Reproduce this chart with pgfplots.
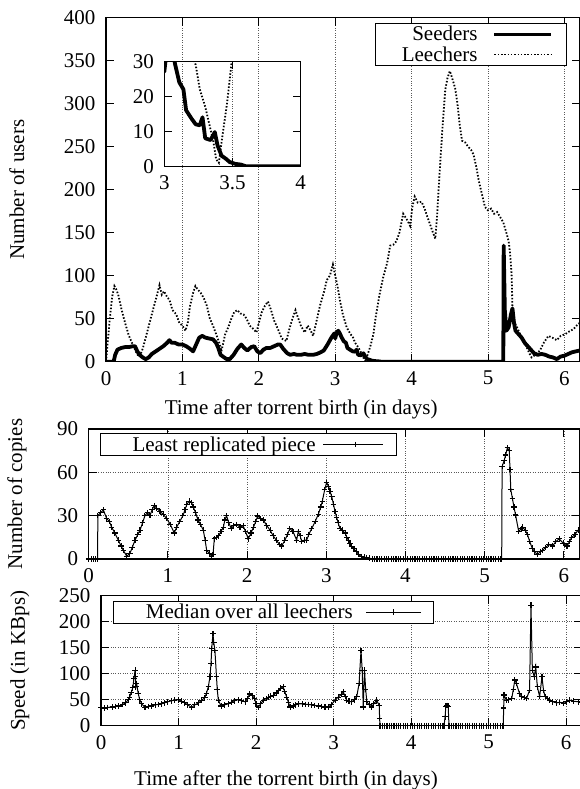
\documentclass[border=0pt]{standalone}
\usepackage{fontspec}
\setmainfont{Liberation Serif}
\usepackage{pgfplots}
\pgfplotsset{compat=1.18}
\usepackage{pgfplotstable}

% number of seeders (days, users)
\pgfplotstableread{
t v
0.00 0
0.10 0
0.12 8
0.15 14
0.20 16
0.25 17
0.30 17
0.35 18
0.38 18
0.41 12
0.44 8
0.48 5
0.52 3
0.56 5
0.60 9
0.65 12
0.70 15
0.75 18
0.80 22
0.83 25
0.86 22
0.90 22
0.95 20
1.00 20
1.05 18
1.10 15
1.14 12
1.18 20
1.22 28
1.26 30
1.30 28
1.35 27
1.40 26
1.44 22
1.47 16
1.50 8
1.53 6
1.58 3
1.62 3
1.67 8
1.72 15
1.77 20
1.81 16
1.85 13
1.90 17
1.94 18
1.98 12
2.02 10
2.06 14
2.10 16
2.15 16
2.20 18
2.25 20
2.28 20
2.32 15
2.37 10
2.41 8
2.46 9
2.50 8
2.55 8
2.60 9
2.65 8
2.71 8
2.76 9
2.81 11
2.85 13
2.90 20
2.95 28
2.99 33
3.00 27
3.02 34
3.04 36
3.06 33
3.08 29
3.11 24
3.14 22
3.16 16
3.20 13.6
3.23 12
3.26 11.7
3.28 14
3.30 8
3.34 7.5
3.37 9.8
3.39 6
3.42 3
3.45 2.2
3.48 1.2
3.52 0.7
3.56 0.5
3.60 0
5.20 0
5.205 135
5.22 60
5.24 36
5.27 40
5.30 55
5.32 62
5.34 45
5.36 36
5.40 32
5.44 28
5.48 22
5.52 18
5.56 14
5.60 10
5.65 8
5.70 9
5.75 8
5.80 6
5.85 5
5.90 3
5.95 6
6.00 7
6.05 9
6.10 11
6.15 12
6.20 13
}\seeders

% number of leechers (days, users)
\pgfplotstableread{
t v
0.00 0
0.02 20
0.05 50
0.08 75
0.11 88
0.13 85
0.16 78
0.20 62
0.25 45
0.30 30
0.35 20
0.40 10
0.43 6
0.45 8
0.48 15
0.52 28
0.57 45
0.62 62
0.66 75
0.70 89
0.73 78
0.76 82
0.80 75
0.83 72
0.87 60
0.92 55
0.96 45
1.00 42
1.04 36
1.07 45
1.10 65
1.14 80
1.17 88
1.20 84
1.24 80
1.28 74
1.32 65
1.36 50
1.40 42
1.45 30
1.49 20
1.51 12
1.53 20
1.56 32
1.60 40
1.64 50
1.68 58
1.72 60
1.76 56
1.80 55
1.84 50
1.88 42
1.93 38
1.97 34
2.00 45
2.04 58
2.08 65
2.12 70
2.16 60
2.20 48
2.25 38
2.30 27
2.36 24
2.40 38
2.44 50
2.48 60
2.51 52
2.55 42
2.60 34
2.64 42
2.68 36
2.71 30
2.75 45
2.80 65
2.85 80
2.89 95
2.93 100
2.97 113
3.00 100
3.03 88
3.06 72
3.10 55
3.15 40
3.20 32
3.23 29
3.26 22
3.30 17
3.33 12
3.36 7
3.38 2
3.40 1
3.42 7
3.46 18
3.50 32
3.53 52
3.58 78
3.63 99
3.68 115
3.72 135
3.76 136
3.80 140
3.84 150
3.89 172
3.94 165
3.98 158
4.01 180
4.04 192
4.08 185
4.13 186
4.17 178
4.20 170
4.24 160
4.28 150
4.31 143
4.33 165
4.37 225
4.41 280
4.44 316
4.47 330
4.50 338
4.53 330
4.57 318
4.60 300
4.63 275
4.66 257
4.70 255
4.74 250
4.78 246
4.81 241
4.85 225
4.88 210
4.92 195
4.96 180
5.00 176
5.04 178
5.08 172
5.12 174
5.16 168
5.20 162
5.24 150
5.27 140
5.29 125
5.31 99
5.32 60
5.35 45
5.38 40
5.42 32
5.46 24
5.50 18
5.54 10
5.57 5
5.62 8
5.68 13
5.73 22
5.79 30
5.84 28
5.90 25
5.95 30
6.01 32
6.06 35
6.12 38
6.18 44
6.20 45
}\leechers

\pgfplotsset{
  gnu/.style={
    scale only axis, anchor=south west,
    axis line style={line width=1.2pt},
    tick style={line width=0.8pt, black},
    major tick length=8pt,
    /pgf/number format/assume math mode=true,
    tick label style={font=\fontsize{21}{24}\selectfont},
    xticklabel style={yshift=-6pt},
    yticklabel style={xshift=-7pt},
    label style={font=\fontsize{21}{24}\selectfont},
    grid style={dotted, line width=0.7pt, black!65},
    legend style={font=\fontsize{21}{24}\selectfont, draw=black, line width=1.1pt,
      inner xsep=0pt, inner ysep=1pt, column sep=0pt,
      nodes={inner xsep=0pt, inner ysep=2pt}},
    legend plot pos=right, legend cell align=right,
  },
  pluses/.style={black, line width=1pt, mark=+, mark size=2.8pt,
    mark options={line width=1.1pt}},
}

\begin{document}
\begin{tikzpicture}
\useasboundingbox (0,0) rectangle (579pt,-789pt);

% users
\begin{axis}[gnu,
  at={(106pt,-361.7pt)}, width=473.7pt, height=344pt,
  xmin=0, xmax=6.2, ymin=0, ymax=400,
  xtick={0,...,6}, ytick={0,50,...,400},
  xmajorgrids,
  xlabel={Time after torrent birth (in days)},
  ylabel={Number of users},
  xlabel style={at={(axis description cs:0.412,-0.14)}, anchor=center},
  ylabel style={at={(axis description cs:-0.188,0.5)}, anchor=center},
  legend style={at={(0.973,0.985)}, anchor=north east},
  legend image code/.code={\path (0pt,0pt) (70pt,0pt); \draw[#1] (0pt,0pt) -- (57pt,0pt);},
]
\addplot[black, line width=3.8pt, line join=round] table {\seeders};
\addplot[black, line width=1.8pt, dash pattern=on 1.5pt off 1.8pt] table {\leechers};
\legend{\hspace*{26pt}Seeders\hspace*{15pt}, \hspace*{26pt}Leechers\hspace*{15pt}}
\end{axis}

% inset
\begin{axis}[gnu,
  at={(164.3pt,-166.3pt)}, width=136.4pt, height=105pt,
  xmin=3, xmax=4, ymin=0, ymax=30,
  xtick={3,3.5,4}, ytick={0,10,20,30},
  xmajorgrids,
]
\addplot[black, line width=3.8pt, line join=round] table {\seeders};
\addplot[black, line width=1.8pt, dash pattern=on 1.5pt off 1.8pt] table {\leechers};
\end{axis}

% copies of the least replicated piece
\begin{axis}[gnu, clip mode=individual,
  at={(88.7pt,-559pt)}, width=491pt, height=130pt,
  xmin=0, xmax=6.2, ymin=0, ymax=90,
  xtick={0,...,6}, ytick={0,30,60,90},
  grid=major,
  ylabel={Number of copies},
  ylabel style={at={(axis description cs:-0.146,0.5)}, anchor=center},
  legend style={at={(0.023,0.969)}, anchor=north west},
  legend image code/.code={\path (0pt,0pt) (73pt,0pt);
    \draw[#1, mark repeat=2, mark phase=2] plot coordinates {(0pt,0pt) (32pt,0pt) (60pt,0pt)};},
]
\addplot[pluses] coordinates {
(0,0) (0.03,0) (0.06,0) (0.09,0) (0.113,0) (0.115,30) (0.15,32) (0.185,34) (0.227,28)
(0.26,26) (0.29,22) (0.33,18) (0.374,13) (0.41,9) (0.437,6) (0.48,2) (0.52,3.8) (0.55,8)
(0.585,13) (0.62,17) (0.648,20) (0.68,25) (0.71,30) (0.74,32) (0.774,30) (0.80,34) (0.828,37)
(0.86,35) (0.90,33) (0.94,31) (0.984,28) (1.03,24) (1.08,18) (1.11,22) (1.15,26) (1.19,30)
(1.216,34) (1.24,38) (1.27,40) (1.30,39) (1.32,36) (1.35,32) (1.38,27) (1.41,24) (1.447,20)
(1.47,13) (1.49,6) (1.52,4) (1.553,2) (1.57,3) (1.586,14) (1.61,15) (1.64,16) (1.67,19)
(1.70,22) (1.72,27) (1.74,30) (1.77,25) (1.80,21) (1.83,23) (1.868,24) (1.91,22) (1.95,23)
(1.98,19) (2.015,14) (2.05,18) (2.08,22) (2.11,26) (2.133,29.8) (2.17,28) (2.205,27) (2.25,23)
(2.29,20) (2.33,16) (2.37,13) (2.41,10) (2.436,9) (2.478,13) (2.51,17) (2.54,21) (2.58,19)
(2.626,13) (2.646,19) (2.67,16) (2.69,12) (2.72,13) (2.752,13) (2.78,17) (2.815,21) (2.86,26)
(2.90,31) (2.93,36) (2.95,40) (2.98,48) (3.004,53) (3.03,50) (3.047,47) (3.07,43) (3.09,38)
(3.11,33) (3.13,29) (3.15,25) (3.174,21) (3.20,20) (3.237,18) (3.26,15) (3.279,13) (3.30,11)
(3.32,8.6) (3.35,7) (3.383,5) (3.41,3) (3.446,1.6) (3.48,1.2) (3.51,1) (3.55,0.5)
(3.58,0) (3.61,0) (3.64,0) (3.67,0) (3.70,0) (3.73,0) (3.76,0) (3.79,0) (3.82,0) (3.85,0)
(3.88,0) (3.91,0) (3.94,0) (3.97,0) (4.00,0) (4.03,0) (4.06,0) (4.09,0) (4.12,0) (4.15,0)
(4.18,0) (4.21,0) (4.24,0) (4.27,0) (4.30,0) (4.33,0) (4.36,0) (4.39,0) (4.42,0) (4.45,0)
(4.48,0) (4.51,0) (4.54,0) (4.57,0) (4.60,0) (4.63,0) (4.66,0) (4.69,0) (4.72,0) (4.75,0)
(4.78,0) (4.81,0) (4.84,0) (4.87,0) (4.90,0) (4.93,0) (4.96,0) (4.99,0) (5.02,0) (5.05,0)
(5.08,0) (5.11,0) (5.14,0) (5.17,0) (5.20,0) (5.215,0)
(5.22,64) (5.245,68) (5.265,72) (5.287,77) (5.31,75) (5.32,62) (5.33,48) (5.35,42) (5.37,36)
(5.39,30.5) (5.43,19) (5.46,21) (5.48,22) (5.51,20) (5.54,17) (5.57,12) (5.60,7.5) (5.63,5)
(5.667,3) (5.70,5) (5.73,6) (5.77,8) (5.81,10) (5.855,9) (5.90,12) (5.94,14) (5.99,11)
(6.04,9) (6.07,12) (6.10,15) (6.14,17) (6.18,20) (6.20,20)
};
\legend{\hspace*{32pt}Least replicated piece\hspace*{7pt}}
\end{axis}

% download speed
\begin{axis}[gnu, clip mode=individual,
  at={(101pt,-725.7pt)}, width=480.5pt, height=130pt,
  xmin=0, xmax=6.2, ymin=0, ymax=250,
  xtick={0,...,6}, ytick={0,50,...,250},
  grid=major,
  xlabel={Time after the torrent birth (in days)},
  ylabel={Speed (in KBps)},
  xlabel style={at={(axis description cs:0.385,-0.418)}, anchor=center},
  ylabel style={at={(axis description cs:-0.169,0.5)}, anchor=center},
  legend style={at={(0.0256,0.962)}, anchor=north west},
  legend image code/.code={\path (0pt,0pt) (67pt,0pt);
    \draw[#1, mark repeat=2, mark phase=2] plot coordinates {(0pt,0pt) (27pt,0pt) (55pt,0pt)};},
]
\addplot[pluses] coordinates {
(0.00,35) (0.04,34) (0.08,35) (0.146,36) (0.19,37) (0.23,38) (0.28,41) (0.32,44) (0.35,50)
(0.37,55) (0.39,64) (0.41,73) (0.425,90) (0.44,107) (0.445,94) (0.45,75) (0.46,81) (0.48,62)
(0.50,50) (0.525,42) (0.568,35) (0.61,37) (0.65,38) (0.70,40) (0.74,41) (0.78,42) (0.82,44)
(0.86,46) (0.91,48) (0.95,49) (0.998,50) (1.04,47) (1.08,44) (1.12,40) (1.17,35) (1.21,40)
(1.26,44) (1.30,49) (1.34,54) (1.36,62) (1.385,75) (1.406,94) (1.42,120) (1.428,148) (1.445,177)
(1.455,160) (1.47,145) (1.49,94) (1.50,70) (1.514,49) (1.55,38) (1.59,40) (1.64,42) (1.68,45)
(1.72,48) (1.77,50) (1.81,48) (1.86,46) (1.89,52) (1.92,61) (1.95,58) (1.98,53) (2.00,42)
(2.03,35) (2.06,42) (2.095,49) (2.13,52) (2.16,55) (2.19,57) (2.22,58) (2.26,63) (2.29,68)
(2.32,72) (2.35,75) (2.37,66) (2.396,55) (2.42,44) (2.44,36) (2.48,38) (2.51,40) (2.55,42)
(2.60,42) (2.64,41) (2.675,41) (2.72,40) (2.76,39) (2.805,38) (2.85,37) (2.89,36) (2.93,36)
(2.97,40) (3.02,49) (3.06,55) (3.10,60) (3.127,65) (3.15,56) (3.17,49) (3.20,47) (3.235,46)
(3.27,50) (3.30,56) (3.33,81) (3.355,145) (3.37,107) (3.384,36) (3.40,107) (3.415,70) (3.43,46)
(3.46,40) (3.49,36) (3.52,42) (3.557,49) (3.59,39) (3.595,14)
(3.60,0) (3.63,0) (3.66,0) (3.69,0) (3.72,0) (3.75,0) (3.78,0) (3.81,0) (3.84,0) (3.87,0)
(3.90,0) (3.93,0) (3.96,0) (3.99,0) (4.02,0) (4.05,0) (4.08,0) (4.11,0) (4.14,0) (4.17,0)
(4.20,0) (4.23,0) (4.26,0) (4.29,0) (4.32,0) (4.35,0) (4.38,0) (4.41,0) (4.426,0)
(4.44,17) (4.45,37.5) (4.465,39) (4.48,37.5)
(4.49,0) (4.52,0) (4.55,0) (4.58,0) (4.61,0) (4.64,0) (4.67,0) (4.70,0) (4.73,0) (4.76,0)
(4.79,0) (4.82,0) (4.85,0) (4.88,0) (4.91,0) (4.94,0) (4.97,0) (5.00,0) (5.03,0) (5.06,0)
(5.09,0) (5.12,0) (5.15,0) (5.18,0) (5.19,0)
(5.196,34) (5.20,59) (5.23,49) (5.26,50) (5.30,52) (5.32,70) (5.34,88) (5.36,81) (5.40,62)
(5.43,56) (5.46,54) (5.49,52) (5.53,68) (5.548,232) (5.566,107) (5.59,94) (5.61,113) (5.63,75)
(5.66,56) (5.69,94) (5.71,68) (5.73,56) (5.76,52) (5.79,49) (5.83,46) (5.88,44) (5.92,45)
(5.97,43) (6.01,46) (6.05,49) (6.10,47) (6.16,46) (6.20,45)
};
\legend{\hspace*{32pt}Median over all leechers\hspace*{13pt}}
\end{axis}
\end{tikzpicture}
\end{document}
